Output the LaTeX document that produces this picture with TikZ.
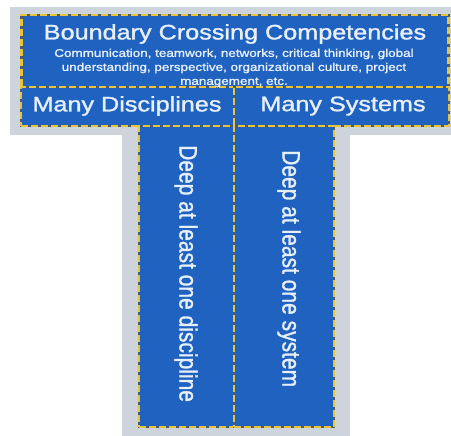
\documentclass[tikz,border=0pt]{standalone}
\usepackage{fontspec}
\setmainfont{Liberation Sans}
\newfontfamily\labelfont{Liberation Sans}[FakeBold=1.3]
\usepackage{graphicx}
\definecolor{panelgray}{HTML}{CDD4DC}
\definecolor{boxblue}{HTML}{1F62BF}
\definecolor{seamgold}{HTML}{E8C43A}
\definecolor{seamdark}{HTML}{4E5A6A}
\definecolor{labelwhite}{HTML}{E6EFFA}
% horizontally widened lettering
\newcommand\wide[1]{\scalebox{1.2}[1]{#1}}
\newcommand\tall[1]{\scalebox{1}[1.2]{#1}}
\begin{document}
\begin{tikzpicture}[x=1pt,y=-1pt,
  tbox/.style={rectangle, fill=boxblue, draw=seamdark, line width=2.6pt,
    inner sep=0pt, outer sep=0pt,
    postaction={draw=seamgold, line width=2.6pt, dash pattern=on 7pt off 3pt}},
  bigtext/.style={text=labelwhite, font=\labelfont\fontsize{21}{25}\selectfont, inner sep=0pt},
  smalltext/.style={text=labelwhite, font=\labelfont\fontsize{11.2}{14}\selectfont, align=center, inner sep=0pt}]
\useasboundingbox (0,0) rectangle (451,436);
% light panel behind the T
\fill[panelgray] (10,7) rectangle (451,135);
\fill[panelgray] (122,135) rectangle (350,436);
% blue blocks
\node[tbox, minimum width=427pt, minimum height=72pt] (top) at (235,51) {};
\node[tbox, minimum width=213pt, minimum height=39pt] (disc) at (127.5,106.5) {};
\node[tbox, minimum width=215pt, minimum height=39pt] (sys) at (341.5,106.5) {};
\node[tbox, minimum width=95pt, minimum height=301pt] (deepd) at (186.5,276.5) {};
\node[tbox, minimum width=100pt, minimum height=301pt] (deeps) at (284,276.5) {};
% labels
\node[bigtext] (title) at (235,34) {\wide{Boundary Crossing Competencies}};
\node[smalltext] (sub) at (234,68) {\wide{Communication, teamwork, networks, critical thinking, global}\\
  \wide{understanding, perspective, organizational culture, project}\\
  \wide{management, etc.}};
\node[bigtext] (disclbl) at (127,106) {\wide{Many Disciplines}};
\node[bigtext] (syslbl) at (343,106) {\wide{Many Systems}};
\node[bigtext, rotate=-90, anchor=west] (deepdlbl) at (186,145) {\tall{Deep at least one discipline}};
\node[bigtext, rotate=-90, anchor=west] (deepslbl) at (289,150) {\tall{Deep at least one system}};
\end{tikzpicture}
\end{document}
